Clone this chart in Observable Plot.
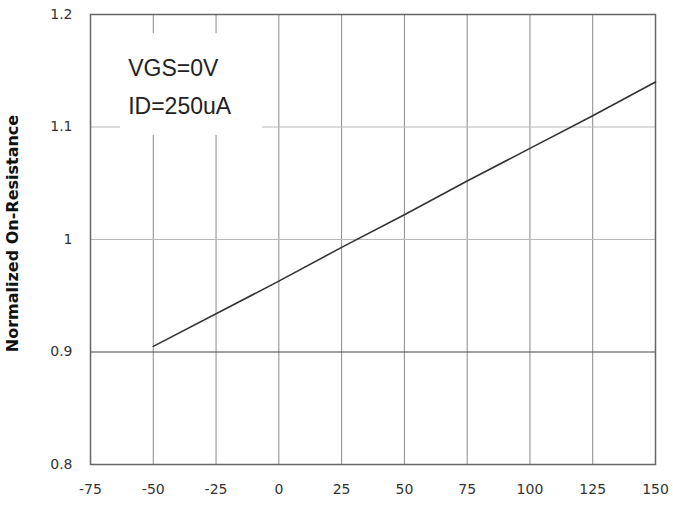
<!DOCTYPE html>
<html><head><meta charset="utf-8">
<script src="https://cdn.jsdelivr.net/npm/d3@7"></script>
<script src="https://cdn.jsdelivr.net/npm/@observablehq/plot@0.6"></script>
<style>
html,body{margin:0;padding:0;background:#fff;}
g[aria-label="x-axis tick label"], g[aria-label="y-axis tick label"] {
  font-size: 14px; font-family: 'DejaVu Sans', sans-serif; fill: #333;
}
</style>
</head><body>
<div id="chart"></div>
<script>
const tempC = [-50, 0, 25, 50, 75, 100, 125, 150];
const rdsNorm = [0.905, 0.963, 0.993, 1.022, 1.052, 1.081, 1.110, 1.140];
const xTicks = [-75, -50, -25, 0, 25, 50, 75, 100, 125, 150];
const yTicks = [0.8, 0.9, 1.0, 1.1, 1.2];
const yTickLabels = ["0.8", "0.9", "1", "1.1", "1.2"];
const yTitle = "Normalized On-Resistance";
const noteLines = ["VGS=0V", "ID=250uA"];
const noteBox = {x1: -63, x2: -6.5, y1: 1.0925, y2: 1.183};
const notePos = [{x: -60, y: 1.1515, t: noteLines[0]}, {x: -60, y: 1.118, t: noteLines[1]}];

const data = tempC.map((t, i) => ({t, r: rdsNorm[i]}));
const font = "'Liberation Sans Narrow', 'Liberation Sans', Arial, sans-serif";

const chart = Plot.plot({
  width: 673,
  height: 506,
  marginLeft: 90,
  marginRight: 18,
  marginTop: 14,
  marginBottom: 42,
  style: {fontFamily: font, background: "#fff"},
  x: {domain: [-75, 150], ticks: xTicks, label: null},
  y: {domain: [0.8, 1.2], ticks: yTicks, label: null},
  marks: [
    Plot.gridX(xTicks, {stroke: "#8a8a8a", strokeOpacity: 1, strokeWidth: 1}),
    Plot.gridY(yTicks.filter(v => v !== 0.9), {stroke: "#b8b8b8", strokeOpacity: 1, strokeWidth: 1}),
    Plot.gridY([0.9], {stroke: "#444", strokeOpacity: 1, strokeWidth: 1}),
    Plot.rect([noteBox], {x1: "x1", x2: "x2", y1: "y1", y2: "y2", fill: "#fff"}),
    Plot.frame({stroke: "#666", strokeWidth: 1.5}),
    Plot.line(data, {x: "t", y: "r", stroke: "#333", strokeWidth: 1.6}),
    Plot.axisX(xTicks, {tickSize: 0, tickPadding: 20, fontSize: 14, fill: "#333",
      tickFormat: d => String(d)}),
    Plot.axisY(yTicks, {tickSize: 0, tickPadding: 18, fontSize: 14, fill: "#333",
      tickFormat: d => yTickLabels[yTicks.indexOf(d)]}),
    Plot.text(notePos, {x: "x", y: "y", text: "t", textAnchor: "start", fontSize: 23, fill: "#222"}),
    Plot.text([yTitle], {frameAnchor: "left", textAnchor: "middle", dx: -78, dy: -6, rotate: -90,
      fontSize: 16, fontWeight: "bold", fill: "#111", fontFamily: "'DejaVu Sans', sans-serif"})
  ]
});
document.getElementById("chart").appendChild(chart);
</script>
</body></html>
